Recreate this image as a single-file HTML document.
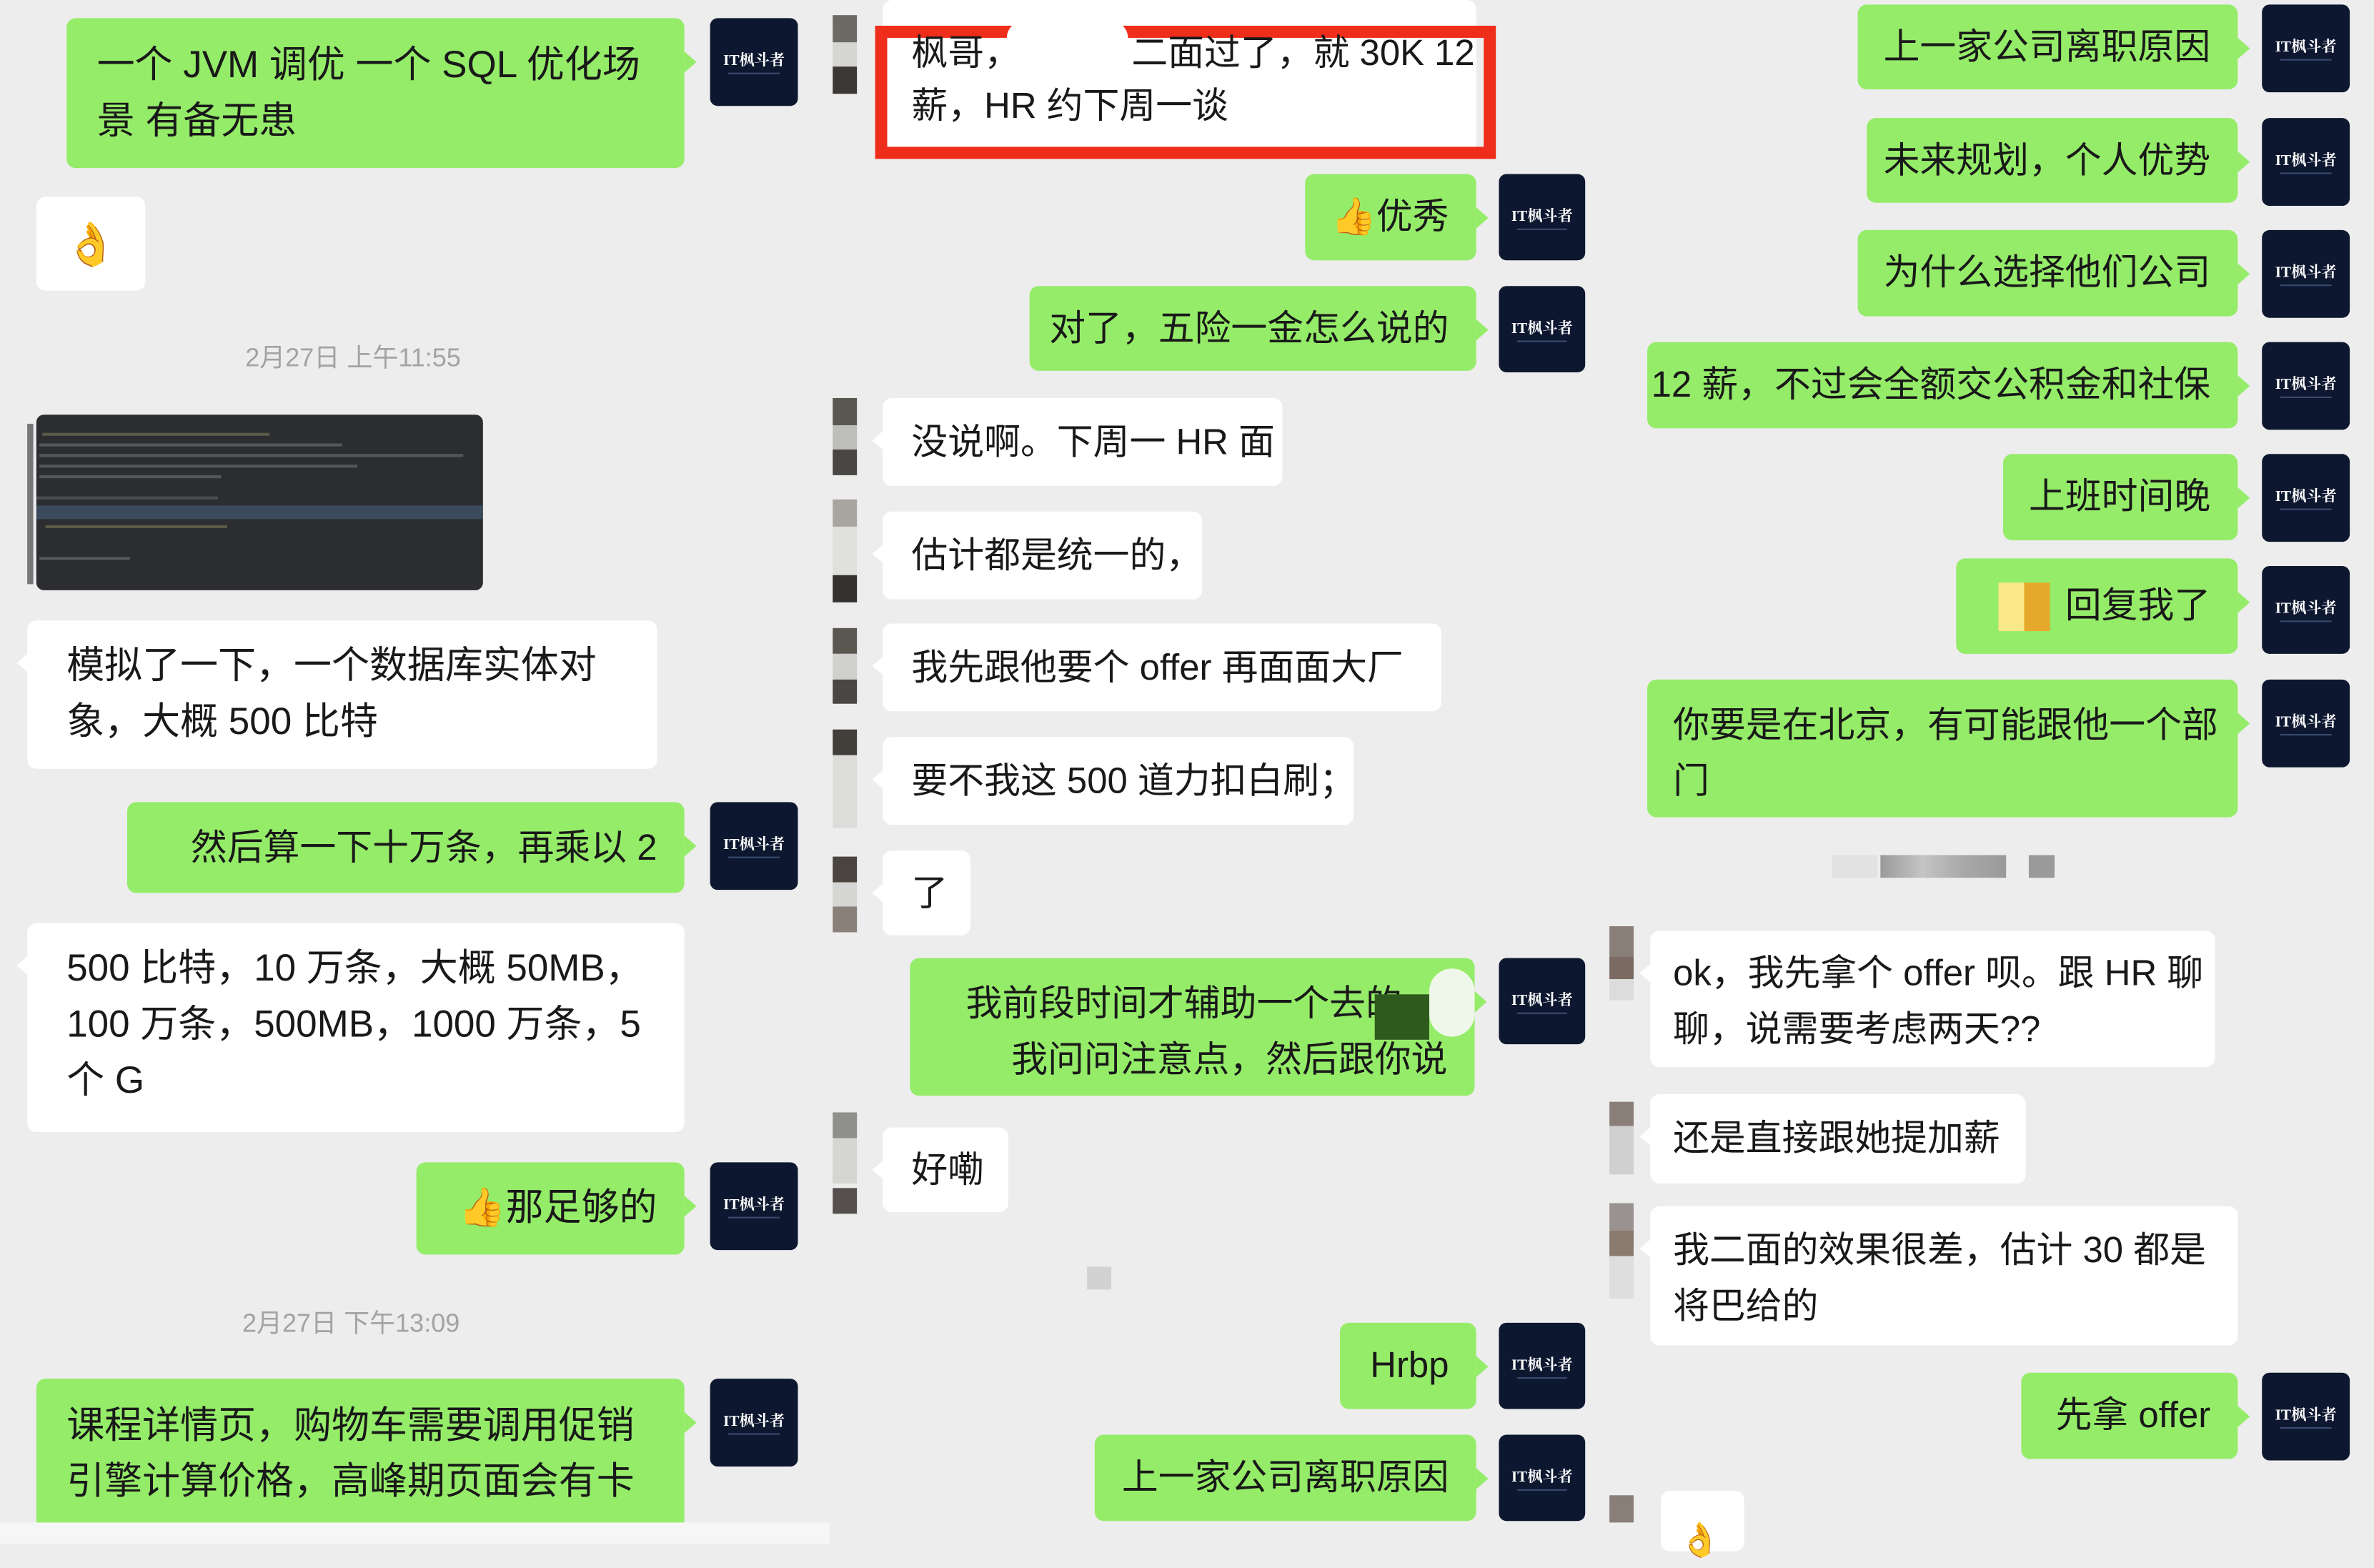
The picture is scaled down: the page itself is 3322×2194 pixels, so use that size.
<!DOCTYPE html>
<html><head><meta charset="utf-8">
<style>
html,body{margin:0;padding:0;width:3322px;height:2160px;overflow:hidden;background:#ededed;}
#w{position:absolute;left:0;top:0;width:1568px;height:1020px;transform:scale(2.11862,2.11765);transform-origin:0 0;background:#ededed;font-family:"Liberation Sans","Noto Sans CJK SC",sans-serif;color:#191919;}
.b{position:absolute;border-radius:6px;font-size:24px;line-height:37px;white-space:nowrap;box-sizing:border-box;}
.g{background:#95ec69;text-align:right;padding-right:18px;}
.g:after{content:"";position:absolute;right:-8px;top:22px;border-left:8px solid #95ec69;border-top:7px solid transparent;border-bottom:7px solid transparent;}
.wt{background:#fff;padding-left:19px;}
.wt:before{content:"";position:absolute;left:-7px;top:22px;border-right:7px solid #fff;border-top:6px solid transparent;border-bottom:6px solid transparent;}
.s1{display:flex;align-items:center;justify-content:flex-end;}
.ws1{display:flex;align-items:center;}
.av{position:absolute;width:58px;height:58px;background:#0d1730;border-radius:5px;color:#fff;font-size:10px;font-weight:bold;text-align:center;line-height:58px;font-family:"Liberation Serif","Noto Serif CJK SC",serif;}
.av:after{content:"";position:absolute;left:12px;right:12px;top:36px;height:1px;background:#3a4a70;}
.ts{position:absolute;font-size:17px;color:#a3a3a3;}
.px{position:absolute;width:16px;}
</style></head><body><div id="w">

<!-- column 1 -->
<div class="b g" style="left:44px;top:12px;width:408px;height:99px;text-align:left;padding:13px 0 0 20px;font-size:25px;">一个 JVM 调优 一个 SQL 优化场<br>景 有备无患</div>
<div class="av" style="left:469px;top:12px;">IT枫斗者</div>
<div class="b" style="left:24px;top:130px;width:72px;height:62px;background:#fff;display:flex;align-items:center;justify-content:center;font-size:28px;">👌</div>
<div class="ts" style="left:162px;top:222px;">2月27日 上午11:55</div>
<div style="position:absolute;left:18px;top:280px;width:4px;height:106px;background:#777;"></div>
<div style="position:absolute;left:24px;top:274px;width:295px;height:116px;background:#2b2d30;border-radius:5px;overflow:hidden;">
 <div style="position:absolute;left:4px;top:12px;width:150px;height:2px;background:#5a5a48;"></div>
 <div style="position:absolute;left:2px;top:19px;width:200px;height:2px;background:#55565a;"></div>
 <div style="position:absolute;left:2px;top:26px;width:280px;height:2px;background:#55565a;"></div>
 <div style="position:absolute;left:2px;top:33px;width:210px;height:2px;background:#55565a;"></div>
 <div style="position:absolute;left:2px;top:40px;width:120px;height:2px;background:#55565a;"></div>
 <div style="position:absolute;left:0;top:54px;width:120px;height:2px;background:#4a4c50;"></div>
 <div style="position:absolute;left:0;top:60px;width:295px;height:9px;background:#3b4a5c;"></div>
 <div style="position:absolute;left:6px;top:73px;width:120px;height:2px;background:#5a5a48;"></div>
 <div style="position:absolute;left:2px;top:94px;width:60px;height:2px;background:#55565a;"></div>
</div>
<div class="b wt" style="left:18px;top:410px;width:416px;height:98px;padding-top:12px;padding-left:26px;font-size:25px;">模拟了一下，一个数据库实体对<br>象，大概 500 比特</div>
<div class="b g s1" style="left:84px;top:530px;width:368px;height:60px;">然后算一下十万条，再乘以 2</div>
<div class="av" style="left:469px;top:530px;">IT枫斗者</div>
<div class="b wt" style="left:18px;top:610px;width:434px;height:138px;padding-top:12px;padding-left:26px;font-size:25px;">500 比特，10 万条，大概 50MB，<br>100 万条，500MB，1000 万条，5<br>个 G</div>
<div class="b g s1" style="left:275px;top:768px;width:177px;height:61px;font-size:25px;">👍那足够的</div>
<div class="av" style="left:469px;top:768px;">IT枫斗者</div>
<div class="ts" style="left:160px;top:860px;">2月27日 下午13:09</div>
<div class="b g" style="left:24px;top:911px;width:428px;height:100px;text-align:left;padding:13px 0 0 20px;font-size:25px;">课程详情页，购物车需要调用促销<br>引擎计算价格，高峰期页面会有卡</div>
<div class="av" style="left:469px;top:911px;">IT枫斗者</div>
<div style="position:absolute;left:0;top:1006px;width:548px;height:14px;background:#f6f6f6;"></div>

<!-- column 2 pixel avatars -->
<div class="px" style="left:550px;top:10px;height:18px;background:#6b6a64;"></div>
<div class="px" style="left:550px;top:28px;height:16px;background:#d5d5d3;"></div>
<div class="px" style="left:550px;top:44px;height:18px;background:#3b3735;"></div>
<div class="px" style="left:550px;top:263px;height:18px;background:#5a5650;"></div>
<div class="px" style="left:550px;top:281px;height:16px;background:#bdbdbb;"></div>
<div class="px" style="left:550px;top:297px;height:17px;background:#4a4644;"></div>
<div class="px" style="left:550px;top:330px;height:18px;background:#a9a6a0;"></div>
<div class="px" style="left:550px;top:348px;height:32px;background:#e0e0de;"></div>
<div class="px" style="left:550px;top:380px;height:18px;background:#35312f;"></div>
<div class="px" style="left:550px;top:415px;height:17px;background:#5a5650;"></div>
<div class="px" style="left:550px;top:432px;height:17px;background:#d0d0ce;"></div>
<div class="px" style="left:550px;top:449px;height:16px;background:#4a4644;"></div>
<div class="px" style="left:550px;top:482px;height:17px;background:#423e3a;"></div>
<div class="px" style="left:550px;top:499px;height:48px;background:#dcdcda;"></div>
<div class="px" style="left:550px;top:566px;height:17px;background:#4a443e;"></div>
<div class="px" style="left:550px;top:583px;height:16px;background:#d5d5d3;"></div>
<div class="px" style="left:550px;top:599px;height:17px;background:#8a807a;"></div>
<div class="px" style="left:550px;top:735px;height:17px;background:#8f8f8d;"></div>
<div class="px" style="left:550px;top:752px;height:30px;background:#d5d5d3;"></div>
<div class="px" style="left:550px;top:785px;height:17px;background:#554f4d;"></div>

<!-- column 2 -->
<div class="b" style="left:583px;top:0;width:392px;height:103px;background:#fff;"></div>
<div style="position:absolute;left:578px;top:17px;width:410px;height:88px;border:8px solid #ee2d1a;box-sizing:border-box;"></div>
<div style="position:absolute;left:665px;top:14px;width:80px;height:22px;background:#fff;border-radius:12px;"></div>
<div style="position:absolute;left:602px;top:18px;font-size:24px;line-height:35px;white-space:nowrap;">枫哥，&nbsp;&nbsp;&nbsp;&nbsp;&nbsp;&nbsp;&nbsp;&nbsp;&nbsp;&nbsp;&nbsp;二面过了，就 30K 12<br>薪，HR 约下周一谈</div>
<div class="b g s1" style="left:862px;top:115px;width:113px;height:57px;">👍优秀</div>
<div class="av" style="left:990px;top:115px;width:57px;height:57px;">IT枫斗者</div>
<div class="b g s1" style="left:680px;top:189px;width:295px;height:56px;">对了，五险一金怎么说的</div>
<div class="av" style="left:990px;top:189px;width:57px;height:57px;">IT枫斗者</div>
<div class="b wt ws1" style="left:583px;top:263px;width:264px;height:58px;">没说啊。下周一 HR 面</div>
<div class="b wt ws1" style="left:583px;top:338px;width:211px;height:58px;">估计都是统一的，</div>
<div class="b wt ws1" style="left:583px;top:412px;width:369px;height:58px;">我先跟他要个 offer 再面面大厂</div>
<div class="b wt ws1" style="left:583px;top:487px;width:311px;height:58px;">要不我这 500 道力扣白刷；</div>
<div class="b wt ws1" style="left:583px;top:562px;width:58px;height:56px;">了</div>
<div class="b g" style="left:601px;top:633px;width:373px;height:91px;padding-top:12px;">我前段时间才辅助一个去的<span style="display:inline-block;width:30px"></span><br>我问问注意点，然后跟你说</div>
<div style="position:absolute;left:908px;top:657px;width:36px;height:30px;background:#2f5a1e;"></div>
<div style="position:absolute;left:944px;top:640px;width:30px;height:45px;background:#eef7e8;border-radius:15px;"></div>
<div class="av" style="left:990px;top:633px;width:57px;height:57px;">IT枫斗者</div>
<div class="b wt ws1" style="left:583px;top:745px;width:83px;height:56px;">好嘞</div>
<div style="position:absolute;left:718px;top:837px;width:16px;height:15px;background:#d2d2d2;"></div>
<div class="b g s1" style="left:885px;top:874px;width:90px;height:57px;">Hrbp</div>
<div class="av" style="left:990px;top:874px;width:57px;height:57px;">IT枫斗者</div>
<div class="b g s1" style="left:723px;top:948px;width:252px;height:57px;">上一家公司离职原因</div>
<div class="av" style="left:990px;top:948px;width:57px;height:57px;">IT枫斗者</div>

<!-- column 3 -->
<div class="b g s1" style="left:1227px;top:3px;width:251px;height:56px;">上一家公司离职原因</div>
<div class="av" style="left:1494px;top:3px;">IT枫斗者</div>
<div class="b g s1" style="left:1233px;top:78px;width:245px;height:56px;">未来规划，个人优势</div>
<div class="av" style="left:1494px;top:78px;">IT枫斗者</div>
<div class="b g s1" style="left:1227px;top:152px;width:251px;height:57px;">为什么选择他们公司</div>
<div class="av" style="left:1494px;top:152px;">IT枫斗者</div>
<div class="b g s1" style="left:1088px;top:226px;width:390px;height:57px;">12 薪，不过会全额交公积金和社保</div>
<div class="av" style="left:1494px;top:226px;">IT枫斗者</div>
<div class="b g s1" style="left:1323px;top:300px;width:155px;height:57px;">上班时间晚</div>
<div class="av" style="left:1494px;top:300px;">IT枫斗者</div>
<div class="b g s1" style="left:1292px;top:369px;width:186px;height:63px;"><span style="display:inline-block;width:34px;height:32px;background:linear-gradient(90deg,#fbe88a 50%,#e6a82a 50%);margin-right:10px;vertical-align:middle"></span>回复我了</div>
<div class="av" style="left:1494px;top:374px;">IT枫斗者</div>
<div class="b g" style="left:1088px;top:449px;width:390px;height:91px;text-align:left;padding:12px 0 0 17px;">你要是在北京，有可能跟他一个部<br>门</div>
<div class="av" style="left:1494px;top:449px;">IT枫斗者</div>
<div style="position:absolute;left:1210px;top:565px;width:30px;height:15px;background:#e2e2e2;"></div>
<div style="position:absolute;left:1242px;top:565px;width:83px;height:15px;background:linear-gradient(90deg,#9a9a9a,#c4c4c4,#a8a8a8,#9a9a9a);"></div>
<div style="position:absolute;left:1340px;top:565px;width:17px;height:15px;background:#9a9a9a;"></div>
<div class="px" style="left:1063px;top:612px;height:20px;background:#8a7e78;"></div>
<div class="px" style="left:1063px;top:632px;height:15px;background:#7a6a62;"></div>
<div class="px" style="left:1063px;top:647px;height:14px;background:#dcdcdc;"></div>
<div class="px" style="left:1063px;top:728px;height:16px;background:#8a7e78;"></div>
<div class="px" style="left:1063px;top:744px;height:32px;background:#d0d0d0;"></div>
<div class="px" style="left:1063px;top:795px;height:18px;background:#9a9290;"></div>
<div class="px" style="left:1063px;top:813px;height:17px;background:#8a7a70;"></div>
<div class="px" style="left:1063px;top:830px;height:28px;background:#dedede;"></div>
<div class="px" style="left:1063px;top:988px;height:18px;background:#8a7e78;"></div>
<div class="b wt" style="left:1090px;top:615px;width:373px;height:90px;padding-top:10px;padding-left:15px;">ok，我先拿个 offer 呗。跟 HR 聊<br>聊，说需要考虑两天??</div>
<div class="b wt ws1" style="left:1090px;top:723px;width:248px;height:59px;padding-left:15px;">还是直接跟她提加薪</div>
<div class="b wt" style="left:1090px;top:797px;width:388px;height:92px;padding-top:11px;padding-left:15px;">我二面的效果很差，估计 30 都是<br>将巴给的</div>
<div class="b g s1" style="left:1335px;top:907px;width:143px;height:57px;">先拿 offer</div>
<div class="av" style="left:1494px;top:907px;">IT枫斗者</div>
<div class="b" style="left:1097px;top:985px;width:55px;height:40px;background:#fff;font-size:22px;padding:14px 0 0 12px;">👌</div>

</div></body></html>
